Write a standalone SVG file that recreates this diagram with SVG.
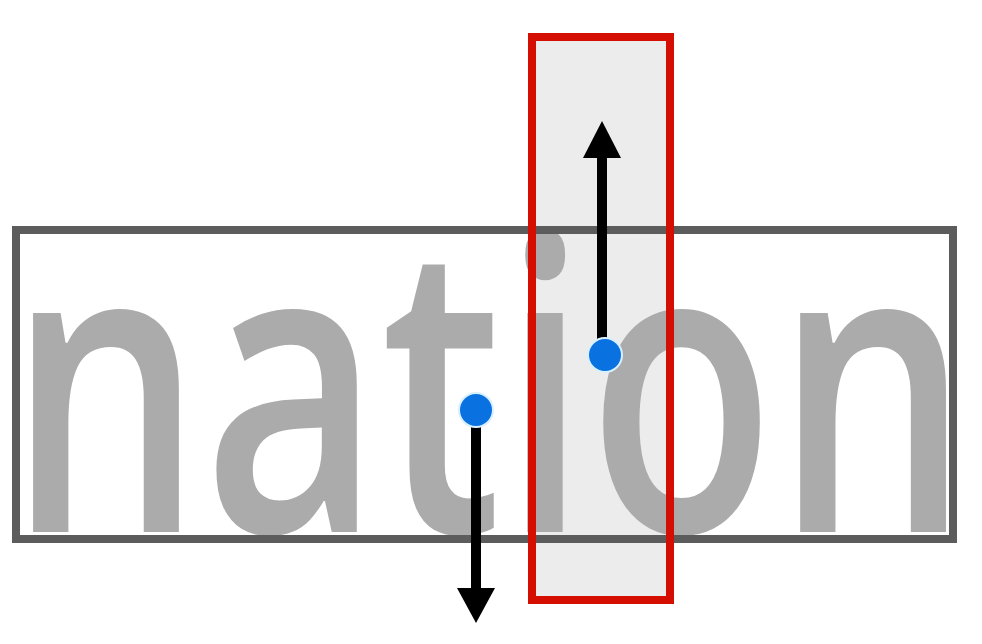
<svg xmlns="http://www.w3.org/2000/svg" width="982" height="644" viewBox="0 0 982 644">
<style>
.word{font-family:"Open Sans","Liberation Sans",sans-serif;font-weight:600;fill:#ababab}
.box{fill:none;stroke:#5c5c5c;stroke-width:8}
.sel{fill:none;stroke:#d40e00;stroke-width:8}
.shaft{stroke:#000;stroke-width:10;fill:none}
.head{fill:#000}
.dot{fill:#0a72e0;stroke:#d8f0ff;stroke-width:2}
</style>
<rect width="982" height="644" fill="#fff"/>
<g id="highlight-fill">
<rect x="532" y="37" width="138" height="563" fill="#ececec"/>
</g>
<g id="word-box">
<text class="word" x="8" y="532" font-size="405" textLength="962" lengthAdjust="spacingAndGlyphs">nation</text>
<rect class="box" x="16" y="230" width="937" height="309"/>
</g>
<g id="highlight">
<rect class="sel" x="532" y="37" width="138" height="563"/>
</g>
<g id="connectors">
<line class="shaft" x1="602" y1="340" x2="602" y2="150"/>
<polygon class="head" points="602,121 583,158 621,158"/>
<line class="shaft" x1="476" y1="420" x2="476" y2="595"/>
<polygon class="head" points="476,623 457,588 495,588"/>
<circle class="dot" cx="605" cy="355" r="17"/>
<circle class="dot" cx="476" cy="410" r="17"/>
</g>
</svg>
